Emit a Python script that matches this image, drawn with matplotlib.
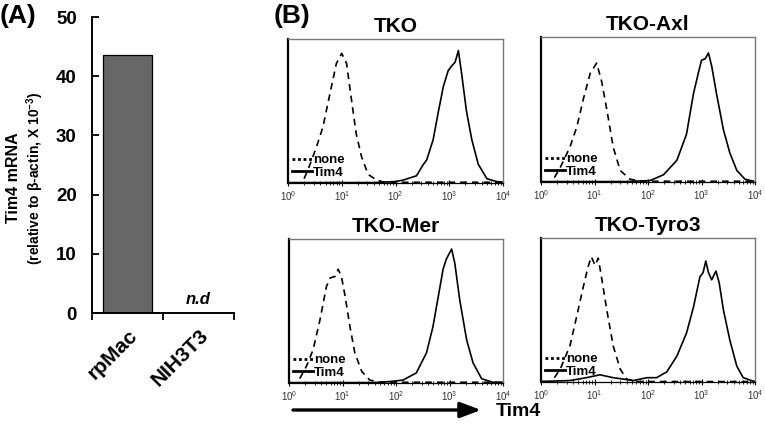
import matplotlib
matplotlib.use("Agg")
import matplotlib.pyplot as plt
import numpy as np
from matplotlib.lines import Line2D
from matplotlib.patches import FancyArrowPatch
from matplotlib.ticker import LogFormatterSciNotation, LogLocator, NullFormatter

plt.rcParams['font.family'] = ['Liberation Sans', 'DejaVu Sans']
plt.rcParams['mathtext.fontset'] = 'custom'
plt.rcParams['mathtext.rm'] = 'Liberation Sans:bold'
plt.rcParams['mathtext.bf'] = 'Liberation Sans:bold'
plt.rcParams['mathtext.it'] = 'Liberation Sans:italic'

# ---------------- Panel A data ----------------
cells = ["rpMac", "NIH3T3"]
tim4_mrna = [43.5, 0.0]
yticks_a = [0, 10, 20, 30, 40, 50]

# ---------------- Panel B data (log10 intensity, % of max count) ----------------
panel_titles = ["TKO", "TKO-Axl", "TKO-Mer", "TKO-Tyro3"]

tko_none_x = [0.30, 0.40, 0.53, 0.65, 0.78, 0.90, 1.00, 1.09, 1.18, 1.27, 1.37, 1.49, 1.65, 1.80, 4.0]
tko_none_y = [3, 12, 25, 39, 62, 83, 90, 83, 58, 34, 18, 6, 2, 0.5, 0.5]
tko_tim4_x = [0.0, 1.6, 2.0, 2.14, 2.39, 2.52, 2.58, 2.70, 2.80, 2.89, 2.98, 3.04, 3.11, 3.17, 3.23, 3.32, 3.42, 3.54, 3.70, 3.88, 4.0]
tko_tim4_y = [0.3, 0.3, 1, 2, 5, 13, 16, 30, 50, 67, 78, 81, 84, 92, 76, 50, 30, 13, 3, 1, 0.5]

axl_none_x = [0.25, 0.36, 0.54, 0.67, 0.79, 0.92, 1.04, 1.13, 1.23, 1.35, 1.48, 1.66, 1.85, 4.0]
axl_none_y = [3, 10, 24, 38, 57, 75, 82, 70, 50, 24, 8, 2, 0.5, 0.5]
axl_tim4_x = [0.0, 1.6, 2.04, 2.29, 2.54, 2.72, 2.85, 2.94, 3.00, 3.07, 3.13, 3.19, 3.28, 3.41, 3.53, 3.66, 3.81, 3.97]
axl_tim4_y = [0.3, 0.3, 1, 5, 15, 33, 61, 75, 84, 85, 89, 80, 61, 36, 20, 8, 2, 0.5]

mer_none_x = [0.20, 0.33, 0.45, 0.58, 0.70, 0.77, 0.86, 0.92, 0.98, 1.05, 1.14, 1.23, 1.36, 1.51, 1.70, 4.0]
mer_none_y = [3, 12, 23, 44, 67, 73, 74, 79, 74, 60, 39, 21, 8, 2, 0.5, 0.5]
mer_tim4_x = [0.0, 1.6, 1.88, 2.13, 2.38, 2.57, 2.69, 2.79, 2.88, 2.94, 3.04, 3.10, 3.19, 3.32, 3.44, 3.60, 3.81, 4.0]
mer_tim4_y = [0.3, 0.3, 1, 2, 7, 21, 39, 60, 79, 86, 93, 83, 58, 30, 14, 3, 0.5, 0.3]

tyro_none_x = [0.25, 0.36, 0.54, 0.67, 0.79, 0.88, 0.94, 1.01, 1.07, 1.13, 1.23, 1.35, 1.48, 1.60, 1.79, 4.0]
tyro_none_y = [3, 9, 25, 46, 66, 80, 87, 81, 86, 73, 50, 25, 9, 2, 0.3, 0.3]
tyro_tim4_x = [0.0, 0.10, 0.54, 0.85, 1.10, 1.35, 1.73, 1.98, 2.16, 2.35, 2.54, 2.72, 2.85, 2.97, 3.03, 3.08, 3.13, 3.19, 3.27, 3.33, 3.41, 3.53, 3.66, 3.78, 3.97]
tyro_tim4_y = [0.5, 0.5, 1, 3, 5, 3, 1, 3, 3, 7, 18, 34, 52, 73, 76, 84, 76, 71, 77, 69, 50, 29, 11, 3, 0.5]

curves = [
    (tko_none_x, tko_none_y, tko_tim4_x, tko_tim4_y),
    (axl_none_x, axl_none_y, axl_tim4_x, axl_tim4_y),
    (mer_none_x, mer_none_y, mer_tim4_x, mer_tim4_y),
    (tyro_none_x, tyro_none_y, tyro_tim4_x, tyro_tim4_y),
]

W, H = 765, 426
fig = plt.figure(figsize=(W / 100, H / 100), dpi=100)


def rect(l, t, r, b):
    return [l / W, 1 - b / H, (r - l) / W, (b - t) / H]


# ---------------- Panel A ----------------
axA = fig.add_axes(rect(92, 17, 234, 313))
axA.bar([0.5, 1.5], tim4_mrna, width=0.7, color="#676767", edgecolor="black", linewidth=0.9)
axA.set_xlim(0, 2)
axA.set_ylim(0, 50)
axA.set_yticks(yticks_a)
axA.set_yticklabels([str(v) for v in yticks_a], fontsize=13.5, fontweight="bold")
axA.tick_params(axis="y", direction="in", length=5, width=1.3, pad=11)
axA.set_xticks([0, 1, 2])
axA.set_xticklabels([])
axA.tick_params(axis="x", which="major", direction="out", length=5, width=1.3)
axA.set_xticks([0.5, 1.5], minor=True)
axA.set_xticklabels(cells, minor=True, rotation=45, ha="right", rotation_mode="anchor",
                    fontsize=15, fontweight="bold")
axA.tick_params(axis="x", which="minor", length=0, pad=9)
for s in ["top", "right"]:
    axA.spines[s].set_visible(False)
for s in ["left", "bottom"]:
    axA.spines[s].set_linewidth(1.4)
axA.text(1.5, 1.0, "n.d", ha="center", va="bottom", fontsize=12, fontweight="bold", style="italic")

fig.text(14 / W, 1 - 178 / H, "Tim4 mRNA", rotation=90, ha="center", va="center",
         fontsize=11.5, fontweight="bold")
fig.text(35 / W, 1 - 178 / H, "(relative to β-actin, X 10$^{-3}$)", rotation=90,
         ha="center", va="center", fontsize=10, fontweight="bold")
fig.text(0 / W, 1 - 16 / H, "(A)", ha="left", va="center", fontsize=19, fontweight="bold")
fig.text(274 / W, 1 - 16 / H, "(B)", ha="left", va="center", fontsize=19, fontweight="bold")

# ---------------- Panel B ----------------
boxes = [rect(288, 39, 503, 183), rect(541, 37, 755, 182),
         rect(289, 239, 503, 383), rect(541, 238, 755, 382)]

for box, title, (nx, ny, tx, ty) in zip(boxes, panel_titles, curves):
    ax = fig.add_axes(box)
    ax.plot(10 ** np.array(nx), ny, color="black", lw=1.2, ls=(0, (4, 3)))
    ax.plot(10 ** np.array(tx), ty, color="black", lw=1.2)
    ax.set_xscale("log")
    ax.set_xlim(1, 1e4)
    ax.set_ylim(0, 100)
    ax.set_yticks([])
    ax.xaxis.set_major_locator(LogLocator(base=10, numticks=6))
    ax.xaxis.set_major_formatter(LogFormatterSciNotation())
    ax.xaxis.set_minor_locator(LogLocator(base=10, subs=np.arange(2, 10), numticks=20))
    ax.xaxis.set_minor_formatter(NullFormatter())
    ax.tick_params(axis="x", which="major", direction="inout", length=5, width=0.8,
                   labelsize=7, labelcolor="#333333", pad=2)
    ax.tick_params(axis="x", which="minor", direction="inout", length=3, width=0.6)
    ax.spines["left"].set_linewidth(1.6)
    ax.spines["bottom"].set_linewidth(0.9)
    for s in ["top", "right"]:
        ax.spines[s].set_color("#777777")
        ax.spines[s].set_linewidth(1.0)
    ax.set_title(title, fontsize=15, fontweight="bold", pad=5)
    handles = [Line2D([], [], color="black", lw=2.0, ls=(0, (1, 1))),
               Line2D([], [], color="black", lw=2.0)]
    ax.legend(handles, ["none", "Tim4"], loc="lower left", frameon=False,
              prop={"weight": "bold", "size": 9.5}, handlelength=1.5, handletextpad=0.1,
              labelspacing=0.05, borderpad=0.1, borderaxespad=0.2)

arrow = FancyArrowPatch((293 / W, 1 - 410 / H), (481 / W, 1 - 410 / H),
                        transform=fig.transFigure, arrowstyle="-|>,head_length=1.25,head_width=0.47",
                        mutation_scale=10, lw=2.4, color="black", shrinkA=0, shrinkB=0)
fig.add_artist(arrow)
fig.text(496 / W, 1 - 412 / H, "Tim4", ha="left", va="center", fontsize=14, fontweight="bold")

fig.savefig("out.png", dpi=100)
